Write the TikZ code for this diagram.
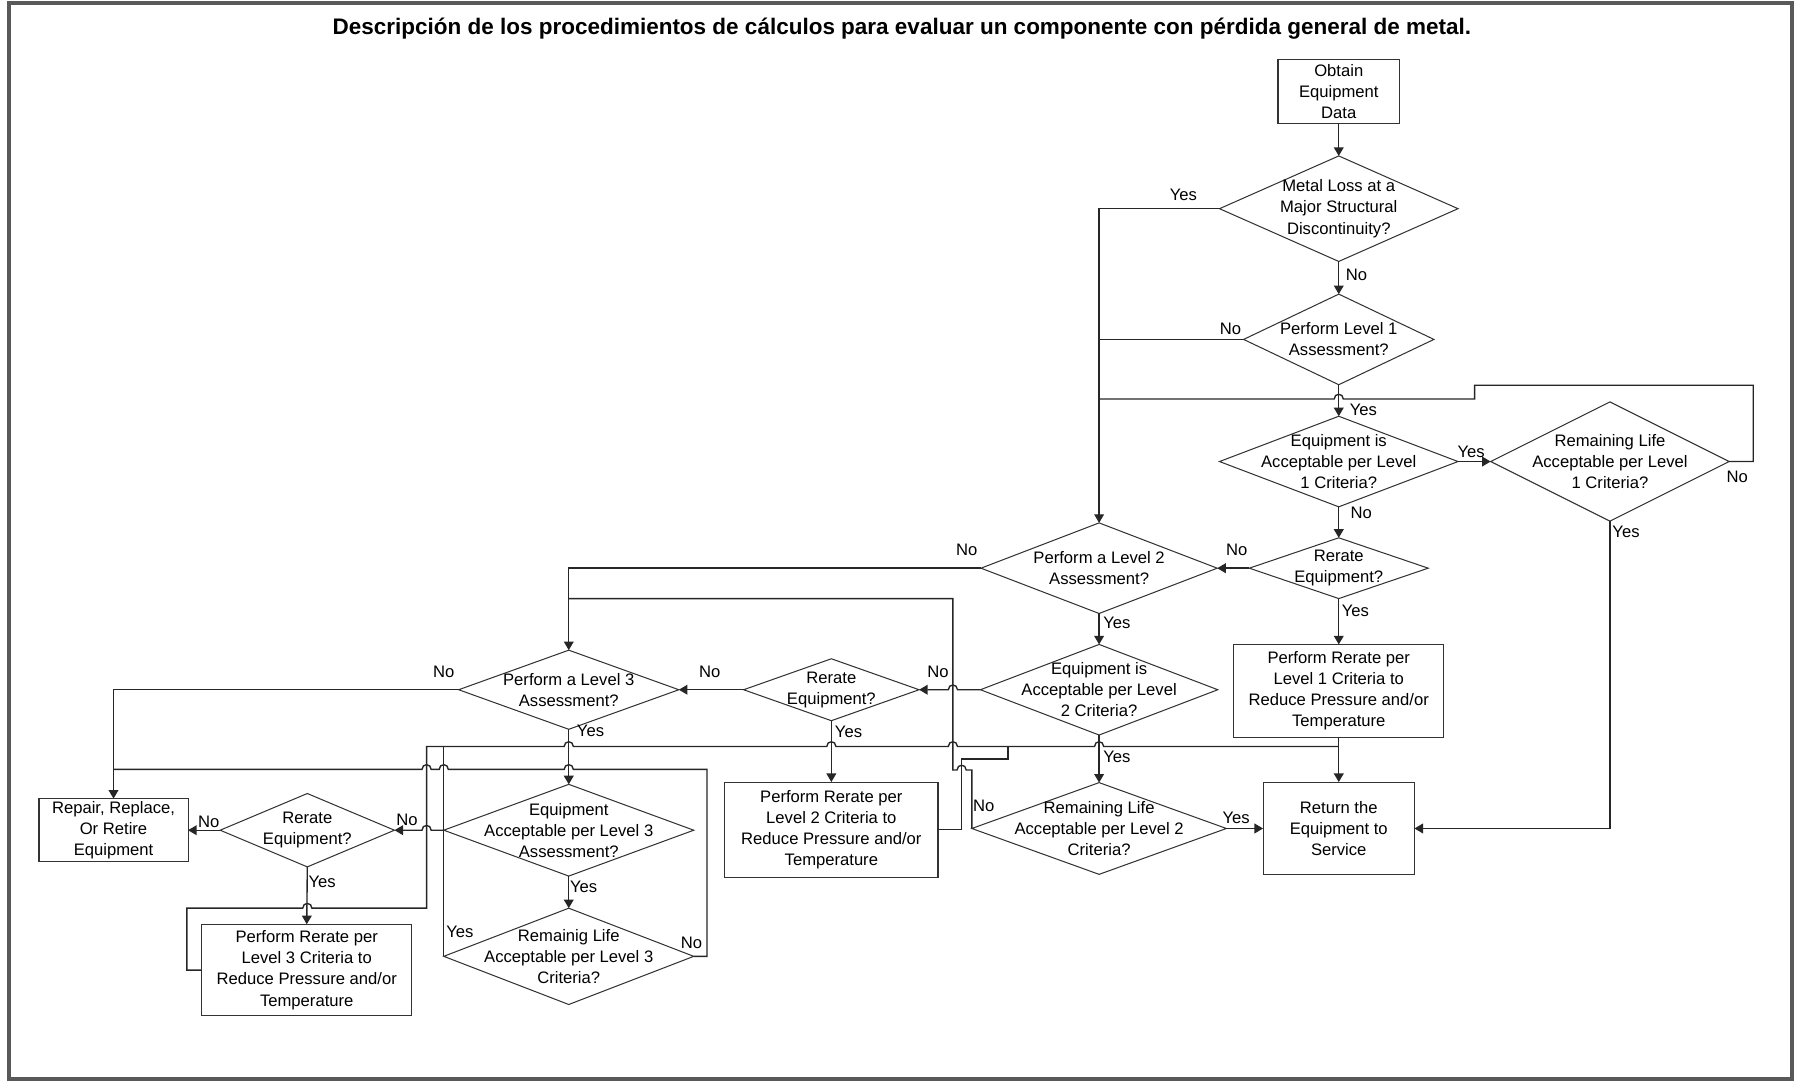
\documentclass[tikz,border=0pt]{standalone}
\usepackage{fontspec}
\setmainfont{Liberation Sans}
\usepackage{graphicx}
\usetikzlibrary{shapes.geometric,arrows.meta}
\newcommand\nfont{\fontsize{14.5pt}{18.4pt}\selectfont}
\tikzset{
 shp/.style={draw=black!80, line width=0.9pt, inner sep=0pt, outer sep=0pt},
 dia/.style={shp, diamond},
 box/.style={shp, rectangle, align=center, font=\nfont},
 lab/.style={font=\nfont, align=center, inner sep=0pt, text=black},
 yn/.style={font=\nfont, inner sep=0pt},
 con/.style={line width=1.2pt, black!85},
 arr/.style={con, -{Triangle[length=7.5pt,width=8.5pt]}},
}
\begin{document}
\begin{tikzpicture}[x=1pt,y=-1pt]
\useasboundingbox (0,0) rectangle (1568,944);
\draw[line width=3.2pt, black!65] (8,2.5) rectangle (1563,941);
\node (title) at (786.5,25) {\resizebox{993pt}{!}{\bfseries Descripción de los procedimientos de cálculos para evaluar un componente con pérdida general de metal.}};

% ---- shapes ----
\node[box, minimum width=106pt, minimum height=56pt] (obtain) at (1167.5,79.5) {Obtain\\Equipment\\Data};
\node[dia, minimum width=208pt, minimum height=92pt, label={[lab]center:{Metal Loss at a\\Major Structural\\Discontinuity?}}] (ml) at (1167.5,182) {};
\node[dia, minimum width=166pt, minimum height=79pt, label={[lab]center:{Perform Level 1\\Assessment?}}] (pl1) at (1167.5,296) {};
\node[dia, minimum width=208pt, minimum height=79pt, label={[lab]center:{Equipment is\\Acceptable per Level\\1 Criteria?}}] (eal1) at (1167.5,402.5) {};
\node[dia, minimum width=208pt, minimum height=104pt, label={[lab]center:{Remaining Life\\Acceptable per Level\\1 Criteria?}}] (rll1) at (1404,402.5) {};
\node[dia, minimum width=156pt, minimum height=53pt, label={[lab]center:{Rerate\\Equipment?}}] (rr1) at (1167.5,495.5) {};
\node[dia, minimum width=206pt, minimum height=79pt, label={[lab]center:{Perform a Level 2\\Assessment?}}] (pl2) at (958.5,495.5) {};
\node[box, minimum width=183pt, minimum height=81pt] (prr1) at (1167.5,602.5) {Perform Rerate per\\Level 1 Criteria to\\Reduce Pressure and/or\\Temperature};
\node[dia, minimum width=207pt, minimum height=79pt, label={[lab]center:{Equipment is\\Acceptable per Level\\2 Criteria?}}] (eal2) at (958.5,601.5) {};
\node[dia, minimum width=222pt, minimum height=80pt, label={[lab]center:{Remaining Life\\Acceptable per Level 2\\Criteria?}}] (rll2) at (958.5,722.5) {};
\node[box, minimum width=132pt, minimum height=81pt] (ret) at (1167.5,722.5) {Return the\\Equipment to\\Service};
\node[dia, minimum width=153pt, minimum height=54pt, label={[lab]center:{Rerate\\Equipment?}}] (rr2) at (725,601.5) {};
\node[box, minimum width=186pt, minimum height=83pt] (prr2) at (725,723.5) {Perform Rerate per\\Level 2 Criteria to\\Reduce Pressure and/or\\Temperature};
\node[dia, minimum width=192pt, minimum height=69pt, label={[lab]center:{Perform a Level 3\\Assessment?}}] (pl3) at (496,601.5) {};
\node[dia, minimum width=218pt, minimum height=80pt, label={[lab]center:{Equipment\\Acceptable per Level 3\\Assessment?}}] (eal3) at (496,724) {};
\node[dia, minimum width=218pt, minimum height=84pt, label={[lab]center:{Remainig Life\\Acceptable per Level 3\\Criteria?}}] (rll3) at (496,834) {};
\node[dia, minimum width=152pt, minimum height=64pt, label={[lab]center:{Rerate\\Equipment?}}] (rr3) at (268,724) {};
\node[box, minimum width=183pt, minimum height=80pt] (prr3) at (267.5,846) {Perform Rerate per\\Level 3 Criteria to\\Reduce Pressure and/or\\Temperature};
\node[box, minimum width=130pt, minimum height=55pt] (repair) at (99,724) {Repair, Replace,\\Or Retire\\Equipment};

% ---- junction points ----
\coordinate (jLoop) at (958.5,348);
\coordinate (jL3) at (496,522);
\coordinate (jRet) at (1167.5,651);
\coordinate (jRep) at (99,671);
\coordinate (jRL3) at (387,651);
\coordinate (jPR2) at (879,651);

% ---- connectors ----
\draw[arr] (obtain.south) -- (ml.north);
\draw[arr] (ml.west) -| (pl2.north);
\draw[con] (pl1.west) -- (pl1.west -| pl2.north);
\draw[arr] (ml.south) -- (pl1.north);
\draw[arr] (pl1.south) -- (eal1.north);
\draw[con] (rll1.east) -- (1529,402.5) -- (1529,336) -- (1286,336) -- (1286,348) -- (1171.5,348) .. controls (1171.5,342.5) and (1163.5,342.5) .. (1163.5,348) -- (jLoop);
\draw[arr] (eal1.east) -- (rll1.west);
\draw[arr] (eal1.south) -- (rr1.north);
\draw[arr] (rr1.west) -- (pl2.east);
\draw[arr] (rr1.south) -- (prr1.north);
\draw[arr] (prr1.south) -- (ret.north);
\draw[arr] (rll1.south) |- (ret.east);
\draw[arr] (pl2.south) -- (eal2.north);
\draw[arr] (pl2.west) -| (pl3.north);
\draw[arr] (eal2.south) -- (rll2.north);
\draw[arr] (rll2.east) -- (ret.west);
\draw[arr] (eal2.west) -- (835,601.5) .. controls (835,596) and (827,596) .. (827,601.5) -- (rr2.east);
\draw[arr] (rr2.west) -- (pl3.east);
\draw[arr] (rr2.south) -- (prr2.north);
\draw[con] (rll2.west) -- (847.5,671.5) -- (842.6,671.5) .. controls (842.6,666) and (834.6,666) .. (834.6,671.5) -- (831,671.5) -- (831,522) -- (jL3);
\draw[con] (prr2.east) -- (838.6,723.5) -- (838.6,662) -- (879,662) -- (jPR2);
\draw[con] (prr3.west) -- (163,846) -- (163,792) -- (264,792) .. controls (264,786.5) and (272,786.5) .. (272,792) -- (372,792) -- (372,651)
  -- (492,651) .. controls (492,645.5) and (500,645.5) .. (500,651)
  -- (721,651) .. controls (721,645.5) and (729,645.5) .. (729,651)
  -- (827,651) .. controls (827,645.5) and (835,645.5) .. (835,651)
  -- (954.5,651) .. controls (954.5,645.5) and (962.5,645.5) .. (962.5,651) -- (jRet);
\draw[con] (rll3.west) -- (jRL3);
\draw[con] (rll3.east) -- (616.6,834) -- (616.6,671)
  -- (500,671) .. controls (500,665.5) and (492,665.5) .. (492,671)
  -- (391,671) .. controls (391,665.5) and (383,665.5) .. (383,671)
  -- (376,671) .. controls (376,665.5) and (368,665.5) .. (368,671) -- (jRep);
\draw[arr] (pl3.west) -| (repair.north);
\draw[arr] (pl3.south) -- (eal3.north);
\draw[arr] (eal3.south) -- (rll3.north);
\draw[arr] (eal3.west) -- (376,724) .. controls (376,718.5) and (368,718.5) .. (368,724) -- (rr3.east);
\draw[arr] (rr3.west) -- (repair.east);
\draw[arr] (rr3.south) -- (prr3.north);

% ---- Yes / No labels ----
\node[yn] (a1) at (1032,170) {Yes};
\node[yn] (a2) at (1183,240) {No};
\node[yn] (a3) at (1073,287) {No};
\node[yn] (a4) at (1189,357) {Yes};
\node[yn] (a5) at (1283,394) {Yes};
\node[yn] (a6) at (1187,447) {No};
\node[yn] (a7) at (1515,416) {No};
\node[yn] (a8) at (1418,464) {Yes};
\node[yn] (a9) at (1078.5,479.6) {No};
\node[yn] (a10) at (1182,533) {Yes};
\node[yn] (a11) at (843,479.6) {No};
\node[yn] (a12) at (974,543) {Yes};
\node[yn] (a13) at (818,586) {No};
\node[yn] (a14) at (974,660) {Yes};
\node[yn] (a15) at (858,703) {No};
\node[yn] (a16) at (1078,713) {Yes};
\node[yn] (a17) at (619,586) {No};
\node[yn] (a18) at (740,638) {Yes};
\node[yn] (a19) at (387,586) {No};
\node[yn] (a20) at (515,637) {Yes};
\node[yn] (a21) at (355,715) {No};
\node[yn] (a22) at (509,773) {Yes};
\node[yn] (a23) at (182,717) {No};
\node[yn] (a24) at (281,769) {Yes};
\node[yn] (a25) at (401,813) {Yes};
\node[yn] (a26) at (603,822) {No};
\end{tikzpicture}
\end{document}
